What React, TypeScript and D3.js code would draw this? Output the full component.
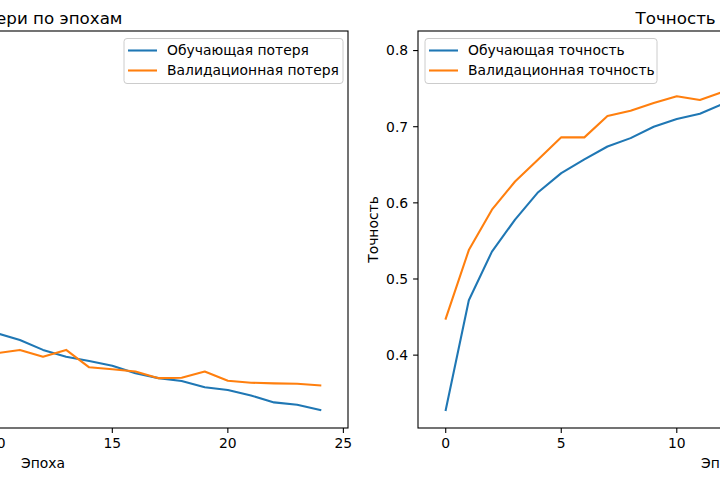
import React from "react";
import * as d3 from "d3";

const epochs = [0, 1, 2, 3, 4, 5, 6, 7, 8, 9, 10, 11, 12, 13, 14, 15, 16, 17, 18, 19, 20, 21, 22, 23, 24];
const trainLoss = [1.88, 1.55, 1.4, 1.3, 1.22, 1.16, 1.11, 1.08, 1.05, 1.03, 1.014, 0.993, 0.963, 0.942, 0.929, 0.915, 0.892, 0.877, 0.868, 0.849, 0.841, 0.824, 0.803, 0.796, 0.78];
const valLoss = [1.62, 1.42, 1.28, 1.18, 1.1, 1.06, 1.01, 0.99, 0.97, 0.96, 0.953, 0.963, 0.942, 0.963, 0.91, 0.904, 0.897, 0.877, 0.878, 0.897, 0.869, 0.863, 0.861, 0.86, 0.855];
const trainAcc = [0.328, 0.472, 0.536, 0.578, 0.614, 0.639, 0.657, 0.674, 0.685, 0.7, 0.71, 0.717, 0.73, 0.74, 0.75, 0.76, 0.765, 0.77, 0.775, 0.78, 0.785, 0.79, 0.795, 0.8, 0.802];
const valAcc = [0.448, 0.538, 0.591, 0.628, 0.657, 0.686, 0.686, 0.714, 0.721, 0.731, 0.74, 0.735, 0.746, 0.75, 0.755, 0.76, 0.762, 0.765, 0.77, 0.768, 0.772, 0.775, 0.774, 0.778, 0.776];
const xTicks = [0, 5, 10, 15, 20, 25];
const accTicks = [0.4, 0.5, 0.6, 0.7, 0.8];
const lossTicks = [0.8, 1.0, 1.2, 1.4, 1.6, 1.8];

const FONT = "DejaVu Sans, sans-serif";
const BLUE = "#1f77b4";
const ORANGE = "#ff7f0e";
const TOP = 31;
const BOTTOM = 428;

function padded(vals: number[]): [number, number] {
  const [a, b] = d3.extent(vals) as [number, number];
  const p = (b - a) * 0.05;
  return [a - p, b + p];
}

type PanelProps = {
  x0: number;
  x1: number;
  title: string;
  ylabel: string;
  yTicks: number[];
  yFmt: (v: number) => string;
  s1: number[];
  s2: number[];
  l1: string;
  l2: string;
  legend: { x: number; w: number };
};

function Panel(p: PanelProps) {
  const x = d3.scaleLinear().domain(padded(epochs)).range([p.x0, p.x1]);
  const y = d3.scaleLinear().domain(padded([...p.s1, ...p.s2])).range([BOTTOM, TOP]);
  const line = d3
    .line<number>()
    .x((_, i) => x(epochs[i]))
    .y((d) => y(d));
  const cx = (p.x0 + p.x1) / 2;
  const lg = p.legend;
  return (
    <g>
      <path d={line(p.s1) || ""} fill="none" stroke={BLUE} strokeWidth={2.08} strokeLinejoin="round" strokeLinecap="square" />
      <path d={line(p.s2) || ""} fill="none" stroke={ORANGE} strokeWidth={2.08} strokeLinejoin="round" strokeLinecap="square" />
      <rect x={p.x0} y={TOP} width={p.x1 - p.x0} height={BOTTOM - TOP} fill="none" stroke="#000" strokeWidth={1.1} />
      {xTicks.map((t) => (
        <g key={"x" + t} transform={`translate(${x(t)},${BOTTOM})`}>
          <line y2={4.9} stroke="#000" strokeWidth={1.1} />
          <text y={20} textAnchor="middle" fontSize={13.9} fill="#000">
            {t}
          </text>
        </g>
      ))}
      {p.yTicks.map((t) => (
        <g key={"y" + t} transform={`translate(${p.x0},${y(t)})`}>
          <line x2={-4.9} stroke="#000" strokeWidth={1.1} />
          <text x={-9.8} dy="0.35em" textAnchor="end" fontSize={13.9} fill="#000">
            {p.yFmt(t)}
          </text>
        </g>
      ))}
      <text x={cx} y={468} textAnchor="middle" fontSize={13.9} fill="#000">
        Эпоха
      </text>
      <text transform={`translate(${p.x0 - 40},${(TOP + BOTTOM) / 2}) rotate(-90)`} textAnchor="middle" fontSize={13.9} fill="#000">
        {p.ylabel}
      </text>
      <text x={cx} y={24} textAnchor="middle" fontSize={16.7} fill="#000">
        {p.title}
      </text>
      <g transform={`translate(${lg.x},38.5)`}>
        <rect width={lg.w} height={45} rx={3} fill="#fff" fillOpacity={0.8} stroke="#cccccc" strokeWidth={1} />
        <line x1={4} x2={33} y1={12} y2={12} stroke={BLUE} strokeWidth={2.08} />
        <line x1={4} x2={33} y1={32} y2={32} stroke={ORANGE} strokeWidth={2.08} />
        <text x={43} y={12} dy="0.35em" fontSize={13.9} fill="#000">
          {p.l1}
        </text>
        <text x={43} y={32} dy="0.35em" fontSize={13.9} fill="#000">
          {p.l2}
        </text>
      </g>
    </g>
  );
}

export default function App() {
  return (
    <svg
      width={720}
      height={480}
      style={{ position: "absolute", left: 0, top: 0, display: "block", background: "#fff", fontFamily: FONT, overflow: "hidden" }}
    >
      <rect width={720} height={480} fill="#fff" />
      <Panel
        x0={-262}
        x1={348}
        title="Потери по эпохам"
        ylabel="Потеря"
        yTicks={lossTicks}
        yFmt={(v) => v.toFixed(1)}
        s1={trainLoss}
        s2={valLoss}
        l1="Обучающая потеря"
        l2="Валидационная потеря"
        legend={{ x: 124, w: 219 }}
      />
      <Panel
        x0={418}
        x1={1028}
        title="Точность по эпохам"
        ylabel="Точность"
        yTicks={accTicks}
        yFmt={(v) => v.toFixed(1)}
        s1={trainAcc}
        s2={valAcc}
        l1="Обучающая точность"
        l2="Валидационная точность"
        legend={{ x: 425, w: 232 }}
      />
    </svg>
  );
}
